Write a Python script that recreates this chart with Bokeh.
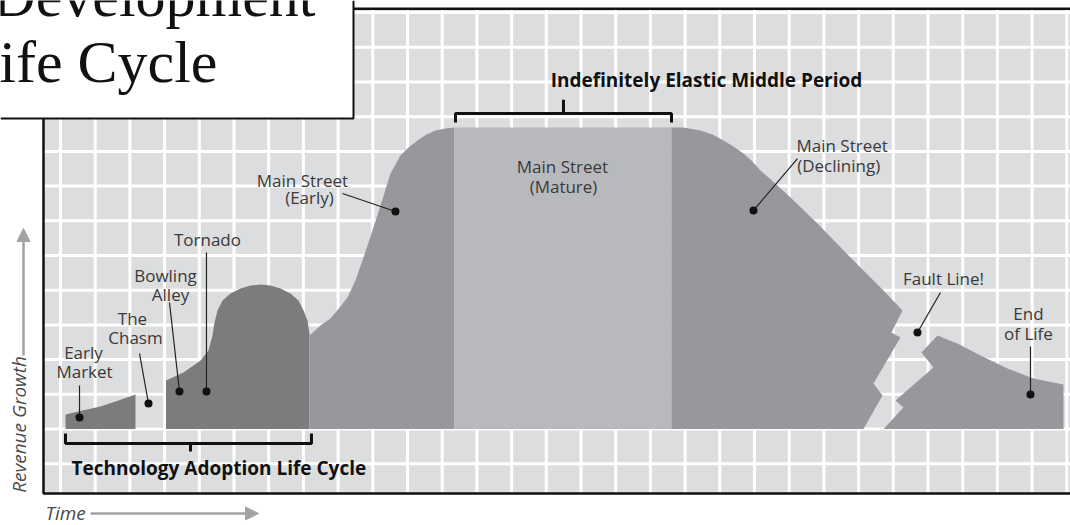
import numpy as np
from bokeh.plotting import figure
from bokeh.models import Range1d, Arrow, NormalHead
from bokeh.core.properties import value
from bokeh.embed import file_html
from bokeh.resources import INLINE

# ---- data: time on x, revenue on y (10 units = one grid cell) ----
early_market_x = [1.44, 1.44, 6.34, 11.53, 16.71, 21.61, 21.61]
early_market_y = [0, 4.18, 5.33, 6.48, 8.21, 9.94, 0]

bowling_tornado_x = [30.40, 30.40, 35.45, 40.35, 42.65, 43.80, 44.38, 45.24, 46.69, 48.99, 51.87,
                     54.76, 57.64, 60.52, 63.40, 66.28, 68.59, 70.03, 71.18, 71.76, 71.76]
bowling_tornado_y = [0, 13.98, 16.28, 19.74, 22.62, 26.95, 30.69, 34.15, 37.03, 39.05, 40.49,
                     41.35, 41.64, 41.35, 40.49, 39.05, 37.03, 34.15, 31.27, 27.52, 0]

main_early_x = [71.76, 71.76, 74.93, 77.81, 80.69, 82.71, 85.01, 87.32, 89.91, 92.22, 95.10,
                97.98, 100.29, 102.88, 105.48, 108.07, 110.95, 113.54, 113.54]
main_early_y = [0, 26.95, 29.83, 31.84, 35.30, 37.90, 42.80, 49.42, 57.20, 64.41, 73.63,
                78.82, 81.12, 83.14, 84.87, 86.02, 86.60, 86.89, 0]

mature_x = [113.54, 113.54, 176.08, 176.08]
mature_y = [0, 86.89, 86.89, 0]

declining_x = [176.08, 179.54, 184.44, 187.90, 191.07, 193.95, 196.83, 199.42, 201.73, 204.03,
               206.63, 210.37, 218.16, 227.67, 237.18, 242.65, 239.48, 242.07, 234.29, 236.89,
               231.41, 176.08]
declining_y = [86.89, 86.89, 86.02, 84.87, 83.14, 81.41, 79.39, 77.09, 74.50, 72.48,
               70.17, 66.71, 59.22, 49.42, 39.91, 34.15, 27.81, 26.37, 13.11, 9.65,
               0, 0]

end_of_life_x = [237.18, 242.94, 240.63, 251.59, 248.13, 252.74, 258.50, 265.13, 272.91,
                 280.40, 289.05, 289.05]
end_of_life_y = [0, 6.20, 8.21, 17.72, 22.05, 26.95, 24.64, 21.18, 17.44, 14.55, 12.82, 0]

# callout dots and the start of their leader lines
dot_x = [5.48, 25.36, 34.29, 42.07, 96.54, 199.71, 246.97, 279.54]
dot_y = [3.31, 7.35, 10.81, 10.81, 62.68, 62.97, 27.81, 9.94]
leader_x = [5.48, 22.77, 31.41, 42.07, 81.27, 212.39, 253.60, 279.54]
leader_y = [12.54, 21.76, 36.46, 50.86, 67.87, 77.95, 39.34, 23.78]

# centred labels
label_text = ["Early", "Market", "The", "Chasm", "Bowling", "Alley", "Tornado",
              "Main Street", "(Early)", "Main Street", "(Mature)",
              "Fault Line!", "End", "of Life"]
label_x = [6.63, 6.92, 20.75, 21.61, 30.26, 31.70, 42.36,
           69.74, 71.76, 144.67, 144.96, 254.47, 278.96, 278.96]
label_y = [22.05, 16.57, 31.84, 26.37, 44.24, 38.76, 54.61,
           71.61, 66.71, 75.65, 69.88, 43.37, 33.29, 27.52]

# left-aligned label
decl_text = ["Main Street", "(Declining)"]
decl_x = [212.10, 212.30]
decl_y = [81.70, 75.94]

# title lines
title_text = ["Development", "Life Cycle"]
title_x = [73.5, 45.24]
title_y = [124.9, 105.9]

# brackets
middle_start, middle_end, middle_level = 113.83, 176.08, 90.92
tech_start, tech_end, tech_level = 1.44, 72.33, -4.18

fig_x0, fig_x1 = -17.29, 291.07
fig_y0, fig_y1 = -27.81, 123.49
chart_left, chart_bottom, chart_top = -4.90, -18.59, 121.10

p = figure(width=1070, height=525, x_range=Range1d(fig_x0, fig_x1), y_range=Range1d(fig_y0, fig_y1),
           output_backend="svg", toolbar_location=None, min_border=0,
           x_axis_location=None, y_axis_location=None)
p.grid.visible = False
p.outline_line_color = None
p.background_fill_color = "white"
p.border_fill_color = "white"

# chart background + grid
p.quad(left=chart_left, right=fig_x1, bottom=chart_bottom, top=chart_top, fill_color="#dcdddf", line_color=None)
gx = np.arange(0, 300, 10)
gy = np.arange(-10, 130, 10)
p.segment(x0=gx, y0=chart_bottom, x1=gx, y1=chart_top, line_color="white", line_width=3)
p.segment(x0=chart_left, y0=gy, x1=fig_x1, y1=gy, line_color="white", line_width=3)

dark, medium, light = "#7b7c7e", "#96989b", "#b7b9bc"
p.patch(early_market_x, early_market_y, fill_color=dark, line_color=None)
p.patch(bowling_tornado_x, bowling_tornado_y, fill_color=dark, line_color=None)
p.patch(main_early_x, main_early_y, fill_color=medium, line_color=None)
p.patch(mature_x, mature_y, fill_color=light, line_color=None)
p.patch(declining_x, declining_y, fill_color=medium, line_color=None)
p.patch(end_of_life_x, end_of_life_y, fill_color=medium, line_color=None)

# brackets
p.multi_line(xs=[[middle_start, middle_start, middle_end, middle_end],
                 [(middle_start + middle_end) / 2, (middle_start + middle_end) / 2]],
             ys=[[middle_level - 2.6, middle_level, middle_level, middle_level - 2.6],
                 [middle_level, middle_level + 4.0]],
             line_color="#111111", line_width=3)
p.multi_line(xs=[[tech_start, tech_start, tech_end, tech_end],
                 [37.46, 37.46]],
             ys=[[tech_level + 2.9, tech_level, tech_level, tech_level + 2.9],
                 [tech_level, tech_level - 2.3]],
             line_color="#111111", line_width=3)

# leaders and dots
p.segment(x0=leader_x, y0=leader_y, x1=dot_x, y1=dot_y, line_color="#222222", line_width=1.2)
p.scatter(dot_x, dot_y, size=8, fill_color="#111111", line_color=None)

font = value("Open Sans")
p.text(x=label_x, y=label_y, text=label_text, text_font=font, text_font_size="17px",
       text_align="center", text_baseline="middle", text_color="#3a3a3a")
p.text(x=decl_x, y=decl_y, text=decl_text, text_font=font, text_font_size="17px",
       text_align="left", text_baseline="middle", text_color="#3a3a3a")
p.text(x=[186.17], y=[100.72], text=["Indefinitely Elastic Middle Period"], text_font=font,
       text_font_size="19px", text_font_style="bold", text_align="center", text_baseline="middle",
       text_color="#111111")
p.text(x=[3.17], y=[-11.10], text=["Technology Adoption Life Cycle"], text_font=font,
       text_font_size="19px", text_font_style="bold", text_align="left", text_baseline="middle",
       text_color="#111111")

# axis captions with arrows
axis_grey = "#a3a3a3"
p.text(x=[-12.10], y=[1.30], text=["Revenue Growth"], angle=np.pi / 2, text_font=font,
       text_font_size="19px", text_font_style="italic", text_align="center", text_baseline="middle",
       text_color="#4a4a4a")
p.text(x=[-4.32], y=[-24.35], text=["Time"], text_font=font, text_font_size="19px",
       text_font_style="italic", text_align="left", text_baseline="middle", text_color="#4a4a4a")
p.add_layout(Arrow(end=NormalHead(size=13, fill_color=axis_grey, line_color=axis_grey),
                   x_start=-10.66, y_start=21.18, x_end=-10.66, y_end=57.78,
                   line_color=axis_grey, line_width=2.5))
p.add_layout(Arrow(end=NormalHead(size=13, fill_color=axis_grey, line_color=axis_grey),
                   x_start=8.65, y_start=-24.35, x_end=57.06, y_end=-24.35,
                   line_color=axis_grey, line_width=2.5))

# chart border
p.line([chart_left, chart_left, fig_x1], [89.48, chart_bottom, chart_bottom], line_color="#111111", line_width=2.5)
p.line([84.44, fig_x1], [chart_top, chart_top], line_color="#111111", line_width=2.5)

# title box
p.quad(left=fig_x0, right=84.44, bottom=89.48, top=fig_y1, fill_color="white", line_color=None)
p.line([84.44, 84.44, fig_x0], [fig_y1, 89.48, 89.48], line_color="#111111", line_width=2)
p.text(x=title_x, y=title_y, text=title_text,
       text_font=value("Liberation Serif"), text_font_size="60px", text_align="right",
       text_baseline="alphabetic", text_color="#111111")

open("out.html", "w").write(file_html(p, INLINE))
